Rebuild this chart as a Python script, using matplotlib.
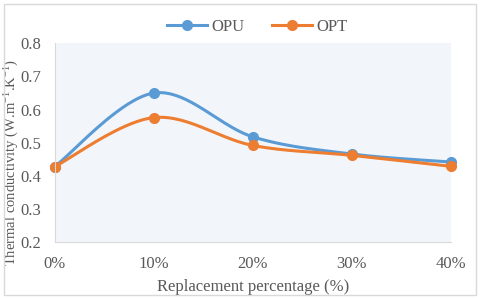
import matplotlib

matplotlib.use("Agg")
import matplotlib.pyplot as plt
import numpy as np
from matplotlib.patches import Rectangle

categories = ["0%", "10%", "20%", "30%", "40%"]
opu = [0.428, 0.650, 0.518, 0.466, 0.442]
opt = [0.428, 0.576, 0.492, 0.462, 0.429]
y_ticks = [0.2, 0.3, 0.4, 0.5, 0.6, 0.7, 0.8]


def _smooth(xs, ys, n=40, tension=0.5):
    # Excel-like smoothed line: cardinal spline through the points
    xs = np.asarray(xs, float)
    ys = np.asarray(ys, float)
    px = np.concatenate([[xs[0]], xs, [xs[-1]]])
    py = np.concatenate([[ys[0]], ys, [ys[-1]]])
    outx, outy = [], []
    t = np.linspace(0, 1, n)
    for i in range(1, len(px) - 2):
        p0x, p1x, p2x, p3x = px[i - 1:i + 3]
        p0y, p1y, p2y, p3y = py[i - 1:i + 3]
        m1x, m2x = tension * (p2x - p0x), tension * (p3x - p1x)
        m1y, m2y = tension * (p2y - p0y), tension * (p3y - p1y)
        h00 = 2 * t**3 - 3 * t**2 + 1
        h10 = t**3 - 2 * t**2 + t
        h01 = -2 * t**3 + 3 * t**2
        h11 = t**3 - t**2
        outx.extend(h00 * p1x + h10 * m1x + h01 * p2x + h11 * m2x)
        outy.extend(h00 * p1y + h10 * m1y + h01 * p2y + h11 * m2y)
    return np.array(outx), np.array(outy)


plt.rcParams["font.family"] = ["Liberation Serif", "DejaVu Serif"]
plt.rcParams["mathtext.fontset"] = "custom"
plt.rcParams["mathtext.rm"] = "Liberation Serif"
plt.rcParams["mathtext.it"] = "Liberation Serif:italic"

fig = plt.figure(figsize=(4.8, 2.99), dpi=100)
fig.patches.append(Rectangle((0.008, 0.012), 0.984, 0.976, transform=fig.transFigure,
                             fill=False, edgecolor="#d9d9d9", linewidth=1))
ax = fig.add_axes([0.114, 0.19, 0.825, 0.665])

x = np.arange(len(categories))
for vals, color, label in [(opu, "#5b9bd5", "OPU"), (opt, "#ed7d31", "OPT")]:
    sx, sy = _smooth(x, vals)
    ax.plot(sx, sy, color=color, linewidth=2.2)
    ax.plot(x, vals, "o", color=color, markersize=7, clip_on=False)
    ax.plot([], [], "-o", color=color, linewidth=2.2, markersize=7, label=label)

ax.set_facecolor("#f2f6fb")
ax.set_xlim(0, len(categories) - 1)
ax.set_ylim(0.2, 0.8)
ax.set_yticks(y_ticks)
ax.set_yticklabels([f"{v:.1f}" for v in y_ticks])
ax.set_xticks(x)
ax.set_xticklabels(categories)
ax.tick_params(length=0, labelsize=12, colors="#595959", pad=10)
for s in ["top", "right"]:
    ax.spines[s].set_visible(False)
for s in ["left", "bottom"]:
    ax.spines[s].set_color("#d9d9d9")

ax.set_xlabel("Replacement percentage (%)", fontsize=12, color="#595959", labelpad=5)
ax.set_ylabel(r"Thermal conductivity (W.m$^{\mathrm{-1}}$.K$^{\mathrm{-1}}$)",
              fontsize=10.5, color="#595959")
ax.yaxis.set_label_coords(-0.084, 0.4)

fig.legend(loc="center", bbox_to_anchor=(0.536, 0.91), ncol=2, frameon=False,
           fontsize=12, labelcolor="#595959", handlelength=2.4, columnspacing=1.6,
           handletextpad=0.3)

fig.savefig("out.png", dpi=100, facecolor="white")
